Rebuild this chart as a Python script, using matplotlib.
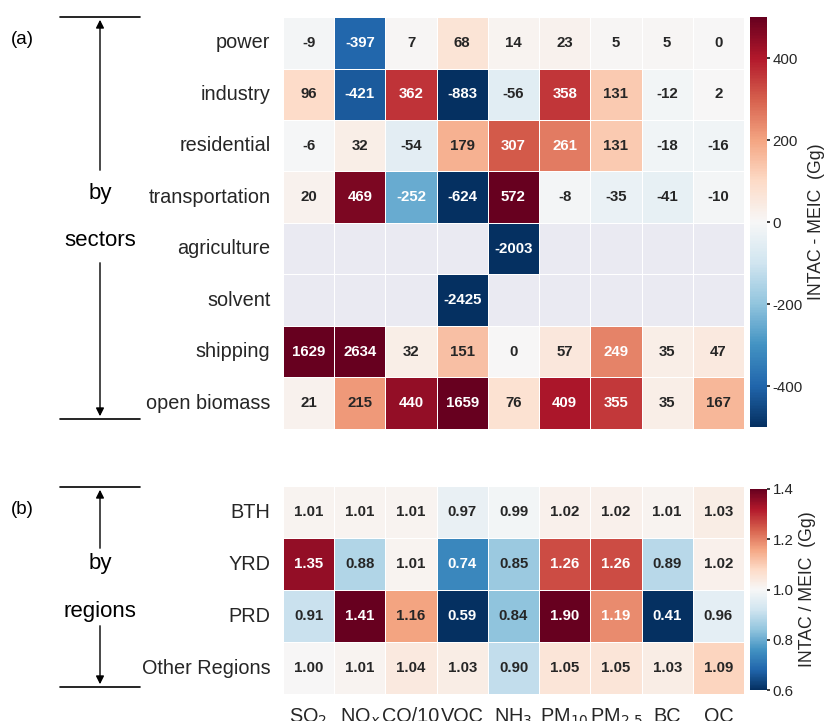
import matplotlib
matplotlib.use('Agg')
import matplotlib.pyplot as plt
import numpy as np
import seaborn as sns

# Data
species = ['SO$_2$', 'NO$_x$', 'CO/10', 'VOC', 'NH$_3$', 'PM$_{10}$', 'PM$_{2.5}$', 'BC', 'OC']
sectors = ['power', 'industry', 'residential', 'transportation', 'agriculture',
           'solvent', 'shipping', 'open biomass']
regions = ['BTH', 'YRD', 'PRD', 'Other Regions']

nan = np.nan
diff_power = [-9, -397, 7, 68, 14, 23, 5, 5, 0]
diff_industry = [96, -421, 362, -883, -56, 358, 131, -12, 2]
diff_residential = [-6, 32, -54, 179, 307, 261, 131, -18, -16]
diff_transport = [20, 469, -252, -624, 572, -8, -35, -41, -10]
diff_agriculture = [nan, nan, nan, nan, -2003, nan, nan, nan, nan]
diff_solvent = [nan, nan, nan, -2425, nan, nan, nan, nan, nan]
diff_shipping = [1629, 2634, 32, 151, 0, 57, 249, 35, 47]
diff_biomass = [21, 215, 440, 1659, 76, 409, 355, 35, 167]

ratio_bth = [1.01, 1.01, 1.01, 0.97, 0.99, 1.02, 1.02, 1.01, 1.03]
ratio_yrd = [1.35, 0.88, 1.01, 0.74, 0.85, 1.26, 1.26, 0.89, 1.02]
ratio_prd = [0.91, 1.41, 1.16, 0.59, 0.84, 1.90, 1.19, 0.41, 0.96]
ratio_other = [1.00, 1.01, 1.04, 1.03, 0.90, 1.05, 1.05, 1.03, 1.09]

diff = np.array([diff_power, diff_industry, diff_residential, diff_transport,
                 diff_agriculture, diff_solvent, diff_shipping, diff_biomass])
ratio = np.array([ratio_bth, ratio_yrd, ratio_prd, ratio_other])

sns.set_theme(style='dark')
plt.rcParams['font.family'] = ['Liberation Sans', 'DejaVu Sans']
plt.rcParams['axes.unicode_minus'] = False

W, H = 826, 721
fig = plt.figure(figsize=(W / 100, H / 100), dpi=100)

def px(l, t, r, b):
    # pixel box -> figure fraction [left, bottom, width, height]
    return [l / W, 1 - b / H, (r - l) / W, (b - t) / H]

ax1 = fig.add_axes(px(283, 17, 744, 429))
cax1 = fig.add_axes(px(750, 17, 767, 427))
ax2 = fig.add_axes(px(283, 486, 744, 694))
cax2 = fig.add_axes(px(750, 489, 767, 690))

annot_kws = {'weight': 'bold', 'size': 10.8}

sns.heatmap(diff, ax=ax1, cbar_ax=cax1, cmap='RdBu_r', vmin=-500, vmax=500,
            annot=True, fmt='.0f', annot_kws=annot_kws, linewidths=0.5, linecolor='white',
            xticklabels=False, yticklabels=sectors,
            cbar_kws={'ticks': [-400, -200, 0, 200, 400]})
sns.heatmap(ratio, ax=ax2, cbar_ax=cax2, cmap='RdBu_r', vmin=0.6, vmax=1.4,
            annot=True, fmt='.2f', annot_kws=annot_kws, linewidths=0.5, linecolor='white',
            xticklabels=species, yticklabels=regions,
            cbar_kws={'ticks': [0.6, 0.8, 1.0, 1.2, 1.4]})

for ax in (ax1, ax2):
    ax.grid(False)
    ax.set_facecolor('#EAEAF2')
    ax.tick_params(axis='y', labelsize=14.3, rotation=0, length=0, pad=9)
    ax.tick_params(axis='x', labelsize=14.3, rotation=0, length=0, pad=9)

cax1.set_ylabel('INTAC - MEIC  (Gg)', fontsize=12.7)
cax2.set_ylabel('INTAC / MEIC  (Gg)', fontsize=12.7)
for cax in (cax1, cax2):
    cax.tick_params(labelsize=10.8, length=2, pad=2)

# left-side annotations in pixel coordinates
over = fig.add_axes([0, 0, 1, 1], facecolor='none')
over.set_xlim(0, W)
over.set_ylim(H, 0)
over.axis('off')

def bracket(top, bot, word1, y1, word2, y2, tag, gap1, gap2):
    over.plot([60, 140], [top, top], color='black', lw=1.2)
    over.plot([60, 140], [bot, bot], color='black', lw=1.2)
    over.annotate('', xy=(100, top), xytext=(100, y1 - gap1),
                  arrowprops=dict(arrowstyle='-|>', color='black', lw=1, mutation_scale=12))
    over.annotate('', xy=(100, bot), xytext=(100, y2 + gap2),
                  arrowprops=dict(arrowstyle='-|>', color='black', lw=1, mutation_scale=12))
    over.text(100, y1, word1, ha='center', va='center', fontsize=16, color='black')
    over.text(100, y2, word2, ha='center', va='center', fontsize=16, color='black')
    over.text(11, top + 22, tag, ha='left', va='center', fontsize=13.5, color='black')

bracket(17, 419, 'by', 193, 'sectors', 241, '(a)', 20, 19)
bracket(487, 687, 'by', 563, 'regions', 612, '(b)', 12, 11)

fig.savefig('out.png', dpi=100)
